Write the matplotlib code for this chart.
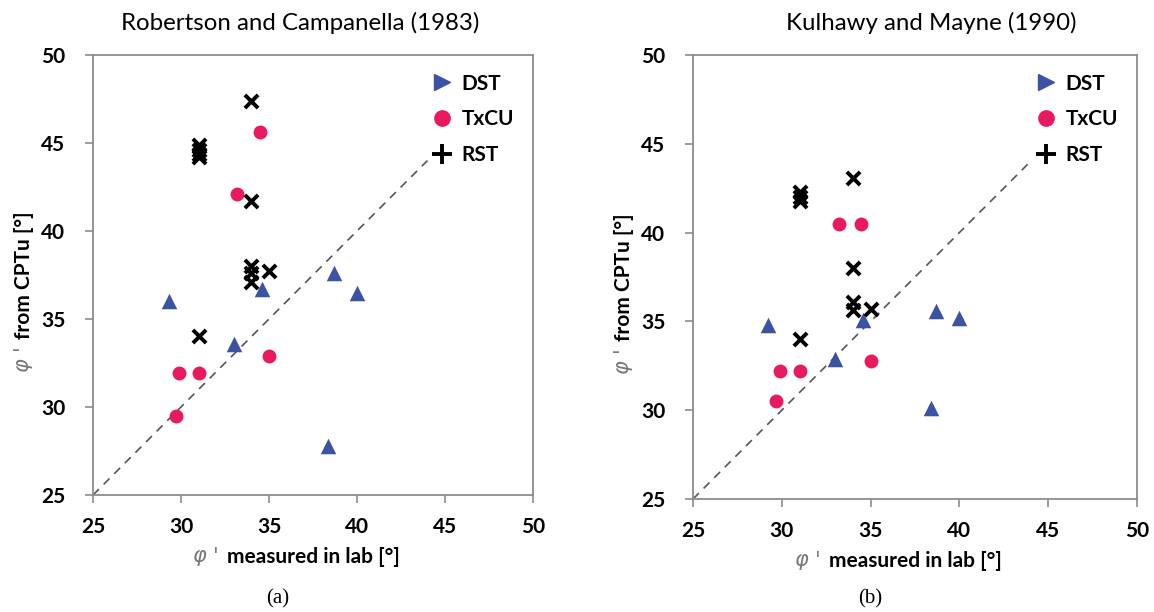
import numpy as np
import matplotlib
matplotlib.use("Agg")
from matplotlib import pyplot as plt
from matplotlib.lines import Line2D

# (a) Robertson and Campanella (1983)
dst_lab_a = [29.3, 33.0, 34.6, 38.7, 40.0, 38.35]
dst_cpt_a = [36.0, 33.6, 36.7, 37.6, 36.5, 27.8]
txcu_lab_a = [34.5, 33.2, 35.0, 29.9, 31.0, 29.7]
txcu_cpt_a = [45.6, 42.1, 32.9, 31.95, 31.95, 29.5]
rst_lab_a = [34.0, 31.0, 31.0, 31.0, 31.0, 34.0, 34.0, 34.0, 34.0, 35.0, 31.0]
rst_cpt_a = [47.4, 44.9, 44.6, 44.4, 44.2, 41.7, 38.0, 37.6, 37.1, 37.7, 34.05]

# (b) Kulhawy and Mayne (1990)
dst_lab_b = [29.25, 33.0, 34.6, 38.7, 40.0, 38.4]
dst_cpt_b = [34.8, 32.9, 35.1, 35.6, 35.2, 30.1]
txcu_lab_b = [33.2, 34.45, 35.0, 29.9, 31.0, 29.7]
txcu_cpt_b = [40.5, 40.5, 32.75, 32.2, 32.2, 30.5]
rst_lab_b = [34.0, 31.0, 31.0, 31.0, 34.0, 34.0, 34.0, 35.0, 31.0]
rst_cpt_b = [43.1, 42.3, 42.0, 41.8, 38.0, 36.1, 35.65, 35.7, 34.0]

titles = ["Robertson and Campanella (1983)", "Kulhawy and Mayne (1990)"]
captions = ["(a)", "(b)"]
ticks = [25, 30, 35, 40, 45, 50]
line_end = 44

blue = "#3c53a4"
pink = "#e8195e"
spine_col = "#8c8c8c"
sans = "Lato"

fig = plt.figure(figsize=(11.54, 6.12), dpi=100)
ax_a = fig.add_axes([0.0806, 0.1912, 0.3813, 0.719])
ax_b = fig.add_axes([0.6005, 0.1846, 0.3847, 0.7255])

panels = [
    (ax_a, dst_lab_a, dst_cpt_a, txcu_lab_a, txcu_cpt_a, rst_lab_a, rst_cpt_a),
    (ax_b, dst_lab_b, dst_cpt_b, txcu_lab_b, txcu_cpt_b, rst_lab_b, rst_cpt_b),
]

for i, (ax, dx, dy, tx, ty, rx, ry) in enumerate(panels):
    ax.plot([25, line_end], [25, line_end], color="#555555", lw=1.2, dashes=(5, 4), zorder=1)
    ax.scatter(dx, dy, marker="^", s=125, color=blue, linewidths=0, zorder=3)
    ax.scatter(tx, ty, marker="o", s=100, color=pink, linewidths=0, zorder=3)
    ax.scatter(rx, ry, marker="x", s=90, color="black", linewidths=2.8, zorder=4)

    ax.set_xlim(25, 50)
    ax.set_ylim(25, 50)
    ax.set_xticks(ticks)
    ax.set_yticks(ticks)
    ax.tick_params(direction="out", length=6, width=1.2, color=spine_col,
                   labelsize=15, top=False, right=False)
    ax.tick_params(axis="y", pad=14)
    ax.tick_params(axis="x", pad=10)
    for lab in ax.get_xticklabels() + ax.get_yticklabels():
        lab.set_fontfamily(sans)
        lab.set_fontweight("bold")
    for sp in ax.spines.values():
        sp.set_color(spine_col)
        sp.set_linewidth(1.3)

    ax.set_xlabel("measured in lab [°]", fontfamily=sans, fontweight="bold",
                  fontsize=15, labelpad=7)
    ax.set_ylabel("from CPTu [°]", fontfamily=sans, fontweight="bold",
                  fontsize=15, labelpad=5)
    ax.annotate(r"$\varphi$ '", xy=(0, 0.5), xycoords=ax.xaxis.label,
                xytext=(-6, 0), textcoords="offset points", ha="right", va="center",
                fontsize=15, color="#777777", family="DejaVu Serif", style="italic")
    ax.annotate(r"$\varphi$ '", xy=(0.5, 0), xycoords=ax.yaxis.label,
                xytext=(0, -6), textcoords="offset points", ha="center", va="top",
                rotation=90, fontsize=15, color="#777777", family="DejaVu Serif",
                style="italic")

    handles = [
        Line2D([], [], ls="none", marker=">", color=blue, markersize=12),
        Line2D([], [], ls="none", marker="o", color=pink, markersize=11),
        Line2D([], [], ls="none", marker="+", color="black", markersize=14,
               markeredgewidth=2.8),
    ]
    ax.legend(handles, ["DST", "TxCU", "RST"], loc="upper right",
              bbox_to_anchor=(1.0, 1.0), frameon=False, handlelength=1.0,
              handletextpad=0.45, labelspacing=0.75,
              prop={"family": sans, "weight": "bold", "size": 15})

fig.text(0.260, 0.962, titles[0], ha="center", va="center", fontsize=17.3, fontfamily=sans)
fig.text(0.807, 0.962, titles[1], ha="center", va="center", fontsize=17.3, fontfamily=sans)
fig.text(0.241, 0.022, captions[0], ha="center", va="center", fontsize=15,
         fontfamily="Liberation Serif")
fig.text(0.754, 0.022, captions[1], ha="center", va="center", fontsize=15,
         fontfamily="Liberation Serif")

fig.savefig("out.png", dpi=100)
